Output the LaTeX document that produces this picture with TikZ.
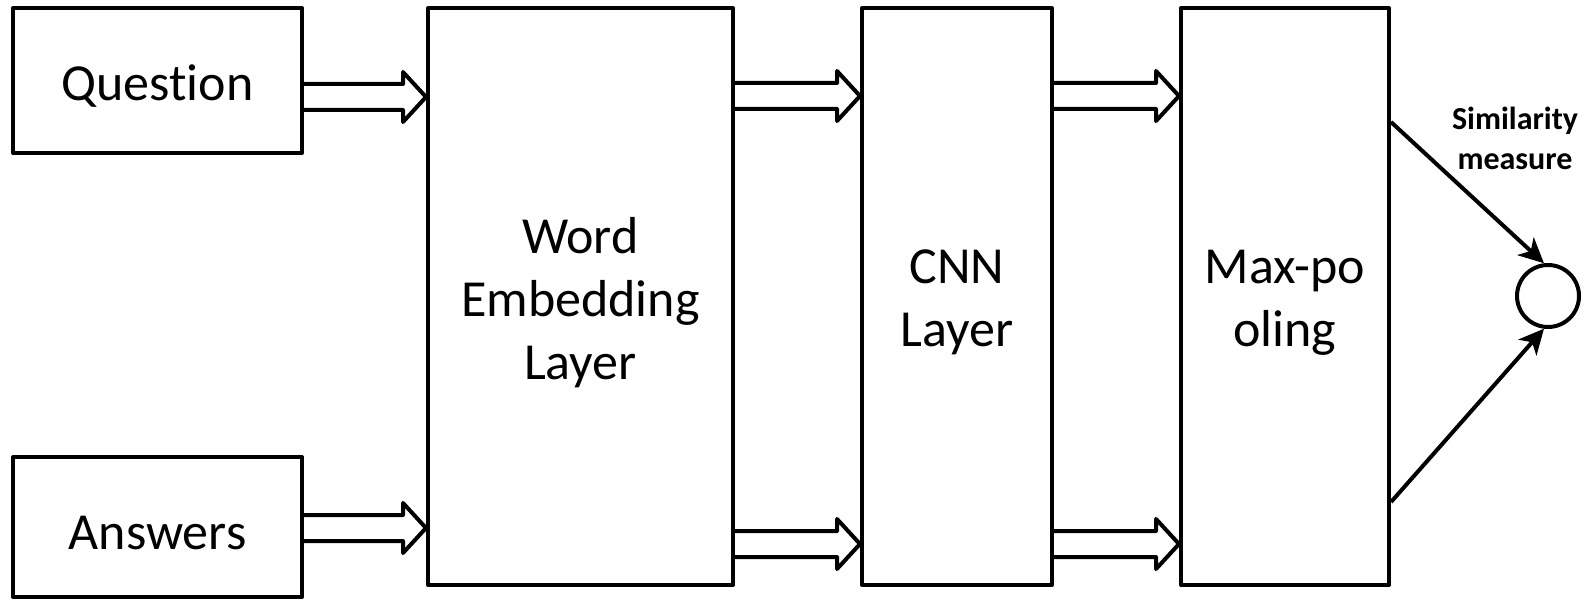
\documentclass[tikz,border=0pt]{standalone}
\usepackage{fontspec}
\setmainfont[Ligatures=NoCommon]{Carlito}
\usetikzlibrary{calc,arrows.meta}

% hollow block arrow from a start point to a tip point
\newcommand\fatarrow[2]{%
  \draw[fat] ($(#1)+(0,-13)$) -- ($(#2)+(-23,-13)$) -- ($(#2)+(-23,-25)$)
    -- (#2) -- ($(#2)+(-23,25)$) -- ($(#2)+(-23,13)$) -- ($(#1)+(0,13)$);}

\begin{document}
\begin{tikzpicture}[x=1pt,y=-1pt,
  box/.style={draw,line width=4pt,line join=round,inner sep=0pt},
  txt/.style={inner sep=0pt,align=center,font=\fontsize{52}{63}\selectfont},
  fat/.style={line width=4pt,line join=round},
  sim/.style={line width=4pt,-{Stealth[length=25pt,width=24pt,inset=7pt]}},
  lbl/.style={align=center,inner sep=0pt,font=\fontsize{32}{40}\selectfont\bfseries}]
\useasboundingbox (0,0) rectangle (1585,601);

% blocks
\node[box,minimum width=289pt,minimum height=145pt] (q) at (157.5,80.5) {};
\node[box,minimum width=289pt,minimum height=140pt] (a) at (157.5,527) {};
\node[box,minimum width=305pt,minimum height=577pt] (we) at (580.5,296.5) {};
\node[box,minimum width=190pt,minimum height=577pt] (cnn) at (957,296.5) {};
\node[box,minimum width=208pt,minimum height=577pt] (mp) at (1285,296.5) {};
\node[draw,circle,line width=4pt,minimum size=62pt,inner sep=0pt] (c) at (1548,296) {};

% block texts
\node[txt] (qt) at ($(q)+(0,6)$) {Question};
\node[txt] (at) at ($(a)+(0,6)$) {Answers};
\node[txt] (wet) at ($(we)+(0,6)$) {Word\\Embedding\\Layer};
\node[txt] (cnnt) at ($(cnn)+(0,6)$) {CNN\\Layer};
\node[txt] (mpt) at ($(mp)+(0,6)$) {Max-po\\oling};
\node[lbl] (sl) at (1515,138) {Similarity\\measure};

% rows of the block arrows
\coordinate (rq) at (0,97);
\coordinate (ra) at (0,528);
\coordinate (rt) at (0,96);
\coordinate (rb) at (0,544);

\coordinate (q1) at (q.east |- rq);   \coordinate (q2) at (we.west |- rq);
\coordinate (a1) at (a.east |- ra);   \coordinate (a2) at (we.west |- ra);
\coordinate (w1) at (we.east |- rt);  \coordinate (w2) at (cnn.west |- rt);
\coordinate (w3) at (we.east |- rb);  \coordinate (w4) at (cnn.west |- rb);
\coordinate (c1) at (cnn.east |- rt); \coordinate (c2) at (mp.west |- rt);
\coordinate (c3) at (cnn.east |- rb); \coordinate (c4) at (mp.west |- rb);

\fatarrow{q1}{q2}
\fatarrow{a1}{a2}
\fatarrow{w1}{w2}
\fatarrow{w3}{w4}
\fatarrow{c1}{c2}
\fatarrow{c3}{c4}

% similarity connectors
\coordinate (s1) at (0,122);
\coordinate (s2) at (0,502);
\draw[sim] (mp.east |- s1) -- (c.97);
\draw[sim] (mp.east |- s2) -- (c.263);
\end{tikzpicture}
\end{document}
